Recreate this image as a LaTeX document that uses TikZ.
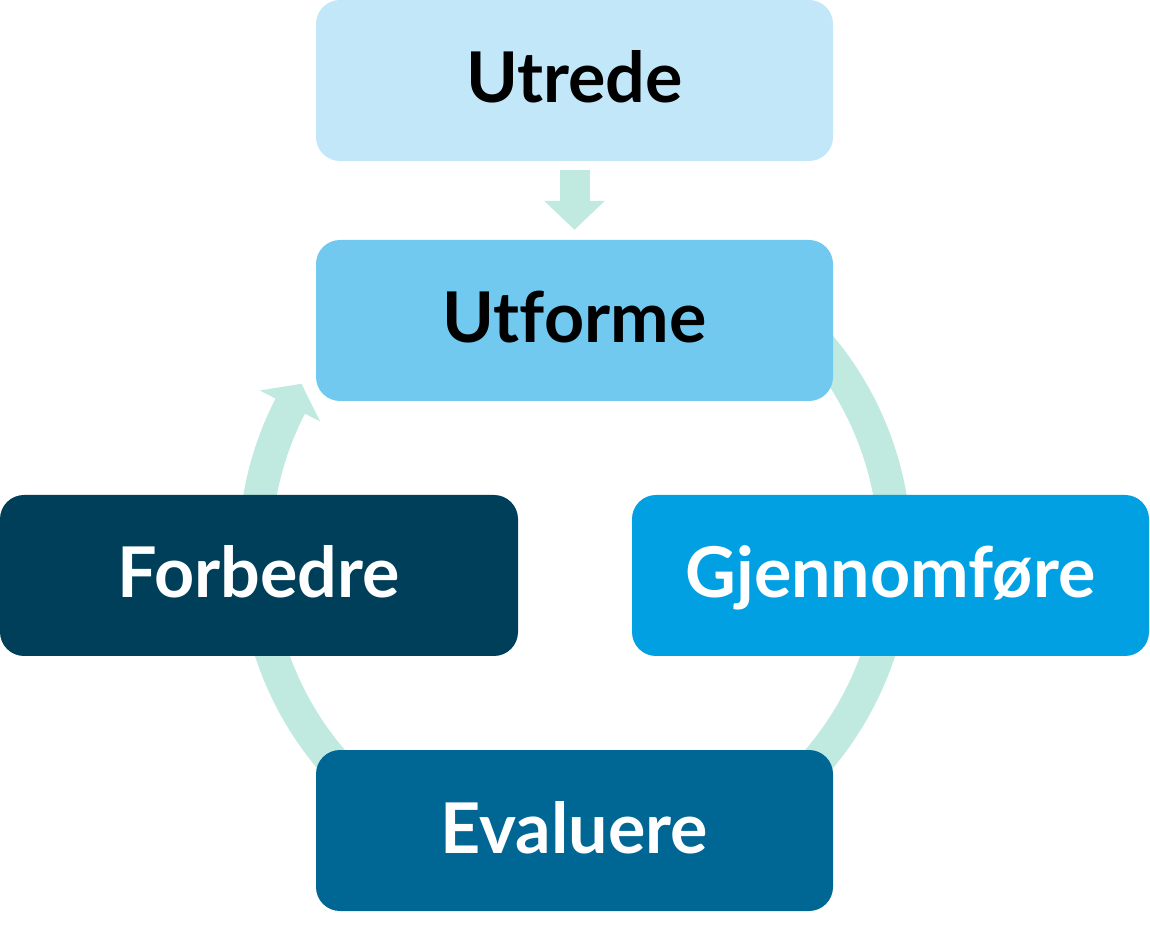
\documentclass[tikz,border=0pt]{standalone}
\usepackage{fontspec}
\setmainfont{Lato}[Ligatures=NoCommon]
\usetikzlibrary{arrows.meta,calc}
\definecolor{cUtrede}{HTML}{C2E7F8}
\definecolor{cUtforme}{HTML}{72C9F0}
\definecolor{cGjenn}{HTML}{00A0E2}
\definecolor{cEval}{HTML}{006794}
\definecolor{cForb}{HTML}{003F5A}
\definecolor{cArrow}{HTML}{C0E9DF}
\begin{document}
\begin{tikzpicture}[x=1pt,y=1pt,
  stage/.style={rounded corners=24pt, minimum width=517pt, minimum height=161pt,
    inner sep=0pt, font=\fontsize{70}{80}\selectfont\bfseries,
    text height=53pt, text depth=8pt},
  flow/.style={draw=cArrow, line width=33pt, line cap=butt}]
\useasboundingbox (0,0) rectangle (1150,945);
% cycle arc (behind boxes)
\coordinate (C) at (575,393);
\draw[flow] ($(C)+(60:320)$) arc[start angle=60, end angle=-207.2, radius=320];
\fill[cArrow] (259.8,554.5) -- (301.4,561.2) -- (320.2,523.5) -- cycle;
% boxes
\node[stage, fill=cUtrede, text=black] (utrede) at (574.5,864.5) {Utrede};
\node[stage, fill=cUtforme, text=black] (utforme) at (574.5,624.5) {Utforme};
\node[stage, fill=cGjenn, text=white] (gjenn) at (890.5,369.5) {Gjennomføre};
\node[stage, fill=cForb, text=white, minimum width=518pt] (forb) at (259,369.5) {Forbedre};
\node[stage, fill=cEval, text=white] (eval) at (574.5,114.5) {Evaluere};
% down arrow
\draw[draw=cArrow, line width=30pt, -{Triangle[width=59pt,length=29pt]}]
  ([yshift=-9pt]utrede.south) -- ([yshift=10pt]utforme.north);
\end{tikzpicture}
\end{document}
